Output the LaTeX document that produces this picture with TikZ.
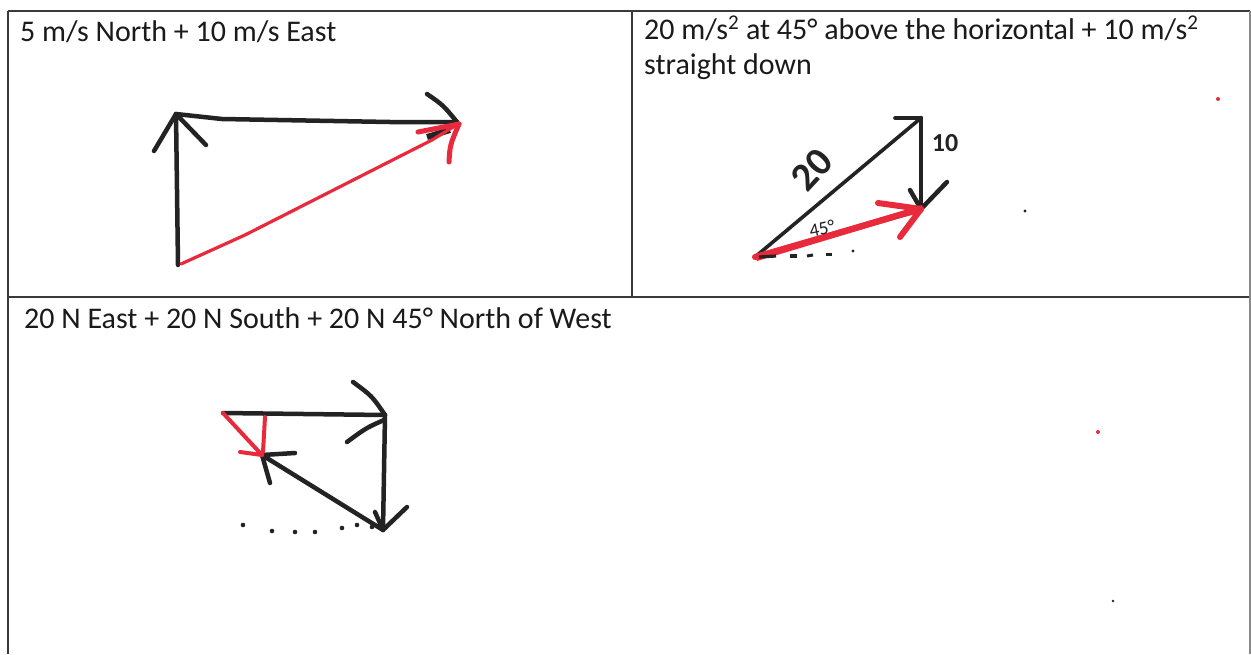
\documentclass[tikz,border=0pt]{standalone}
\usepackage{fontspec}
\setmainfont{Carlito}
\definecolor{inkk}{HTML}{232323}
\definecolor{redk}{HTML}{E82A3C}
\definecolor{rulek}{HTML}{3A3A3A}
\definecolor{textk}{HTML}{1A1A1A}
\begin{document}
\begin{tikzpicture}[x=1pt,y=-1pt,
  ink/.style={draw=inkk, line width=4.5pt, line cap=round, line join=round},
  redink/.style={draw=redk, line width=4pt, line cap=round, line join=round},
  rulerline/.style={draw=rulek, line width=1.6pt},
  lbl/.style={anchor=base west, inner sep=0pt, font=\fontsize{30}{36}\selectfont, text=textk},
  hand/.style={inner sep=0pt, text=inkk, font=\bfseries\fontsize{30}{30}\selectfont}]
\useasboundingbox (0,0) rectangle (1251,654);
\fill[white] (0,0) rectangle (1251,654);
% table rules
\draw[rulerline] (8,11) -- (1250,11);
\draw[rulerline] (8,11) -- (8,654);
\draw[rulerline] (632,11) -- (632,297);
\draw[rulerline] (8,297) -- (1250,297);
\draw[rulerline, draw=rulek!60] (1250,11) -- (1250,654);
% texts
\node[lbl] (t1) at (20,41) {5 m/s North + 10 m/s East};
\node[lbl] (t2a) at (644,39) {20 m/s\textsuperscript{2} at 45° above the horizontal + 10 m/s\textsuperscript{2}};
\node[lbl] (t2b) at (644,74) {straight down};
\node[lbl] (t3) at (24,328) {20 N East + 20 N South + 20 N 45° North of West};
% ---------- cell 1
\coordinate (a1) at (178,265);
\coordinate (a2) at (176,114);
\coordinate (a3) at (457,122);
\draw[ink] (a1) -- (a2);
\draw[ink] (154,151) -- (a2) -- (206,145);
\draw[ink] (a2) -- (222,119) -- (390,122) -- (a3);
\draw[ink] (427,94) .. controls (443,105) .. (a3);
\draw[ink, line width=6pt, line cap=butt] (427,137) -- (450,130);
\draw[redink, line width=3.2pt] (181,264) -- (245,235) -- (432,140) -- (458,124);
\draw[redink, line width=5pt] (418,132) -- (459,124);
\draw[redink, line width=5pt] (449,162) .. controls (450,145) .. (459,124);
% ---------- cell 2
\coordinate (b1) at (755,257);
\coordinate (b2) at (921,118);
\coordinate (b3) at (921,209);
\draw[ink, line width=3.6pt] (b1) -- (b2);
\draw[ink, line width=3.6pt] (895,118) -- (b2);
\draw[ink] (b2) -- (b3);
\draw[ink] (910,190) -- (b3) -- (947,182);
\fill[redk] (754,255) -- (905,210) -- (922,205) -- (923,212) -- (900,218) -- (757,261) -- cycle;
\draw[redink, line width=6pt] (b1) -- (b3);
\draw[redink, line width=6pt] (878,203) -- (b3) -- (900,237);
\draw[ink, line width=3.2pt, line cap=butt] (759,257) -- (776,256);
\draw[ink, line width=3.2pt, line cap=butt] (790,256) -- (797,256);
\draw[ink, line width=3pt, line cap=butt] (807,256) -- (813,255);
\draw[ink, line width=3pt, line cap=butt] (826,254) -- (832,254);
\fill[inkk] (853,251) circle (1.6);
\node[hand, rotate=47, font=\bfseries\fontsize{40}{40}\selectfont] (l20) at (812,170) {20};
\node[hand, rotate=12, font=\fontsize{19}{19}\selectfont] (l45) at (822,229) {45°};
\node[hand, font=\bfseries\fontsize{26}{26}\selectfont] (l10) at (945,143) {10};
% ---------- cell 3
\coordinate (c1) at (223,413);
\coordinate (c2) at (385,415);
\coordinate (c3) at (383,530);
\coordinate (c4) at (262,455);
\draw[ink] (c1) -- (c2);
\draw[ink] (353,382) .. controls (372,396) .. (c2);
\draw[ink] (347,442) .. controls (366,428) .. (384,420);
\draw[ink] (c2) -- (c3);
\draw[ink] (375,512) -- (c3) -- (407,507);
\draw[ink] (c3) -- (c4);
\draw[ink] (295,453) -- (c4) -- (270,483);
\draw[redink] (c1) -- (c4);
\draw[redink] (265,417) -- (263,452);
\draw[redink] (240,452) -- (c4);
\foreach \p in {(243,525),(272,531),(295,532),(315,532),(342,528),(357,525),(372,527)}
  \fill[inkk] \p circle (2.3);
% specks
\fill[redk] (1218,99) circle (2);
\fill[inkk] (1025,211) circle (1.6);
\fill[redk] (1098,432) circle (2);
\fill[inkk] (1113,601) circle (1.4);
\end{tikzpicture}
\end{document}
